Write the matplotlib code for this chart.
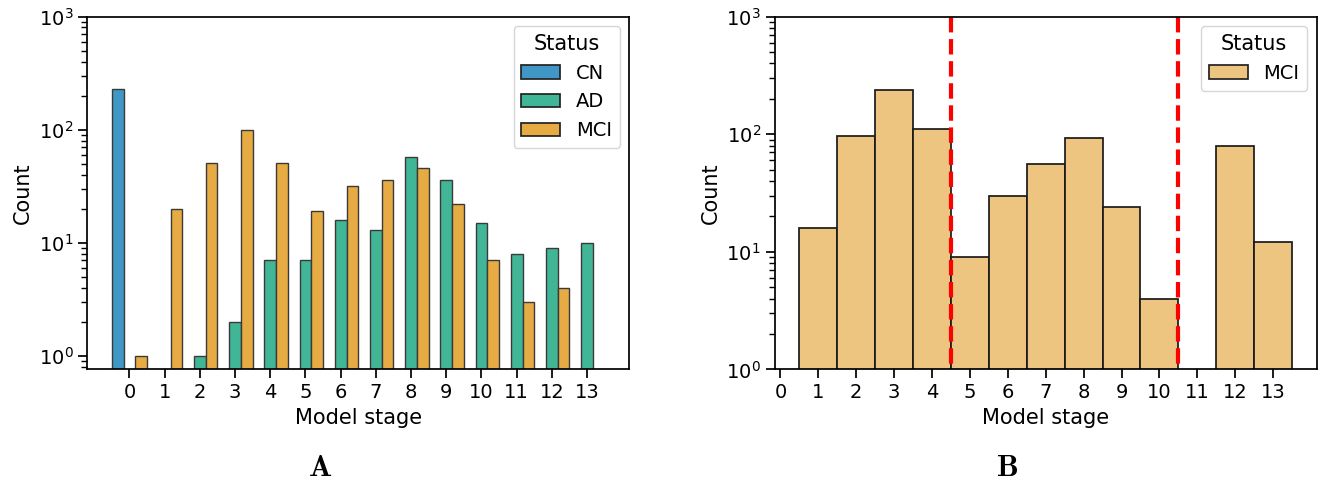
import numpy as np
import matplotlib
matplotlib.use("Agg")
import matplotlib.pyplot as plt
from matplotlib.patches import Patch

plt.rcParams['mathtext.fontset'] = 'cm'
plt.rcParams['axes.linewidth'] = 1.25
plt.rcParams['xtick.major.size'] = 6.5
plt.rcParams['ytick.major.size'] = 6.5
plt.rcParams['ytick.minor.size'] = 4
plt.rcParams['xtick.major.width'] = 1.25
plt.rcParams['ytick.major.width'] = 1.25
plt.rcParams['ytick.minor.width'] = 1.0

# panel A: counts per model stage for each status
stages = np.arange(14)
statuses = ['CN', 'AD', 'MCI']
cn_counts = [228, 0, 0, 0, 0, 0, 0, 0, 0, 0, 0, 0, 0, 0]
ad_counts = [0, 0, 1, 2, 7, 7, 16, 13, 57, 36, 15, 8, 9, 10]
mci_counts = [1, 20, 51, 100, 51, 19, 32, 36, 46, 22, 7, 3, 4, 0]
colors_a = ['#4096c5', '#41b696', '#e6ab43']

# panel B: MCI only
mci_b_counts = [0, 16, 96, 235, 110, 9, 30, 56, 93, 24, 4, 0, 79, 12]
color_b = '#eec580'
cut_points = [4.5, 10.5]

fs_tick = 14
fs_label = 15

fig = plt.figure(figsize=(13.22, 4.86), dpi=100)
axA = fig.add_axes([0.066, 0.240, 0.410, 0.726])
axB = fig.add_axes([0.586, 0.240, 0.410, 0.726])

w = 1 / 3
for i, (name, counts) in enumerate(zip(statuses, [cn_counts, ad_counts, mci_counts])):
    counts = np.array(counts, dtype=float)
    keep = counts > 0
    axA.bar(stages[keep] + (i - 1) * w, counts[keep], width=w,
            color=colors_a[i], edgecolor='#3a3a3a', linewidth=1.0)
axA.set_yscale('log')
axA.set_ylim(0.76, 1000)
axA.set_xlim(-1.2, 14.2)
axA.set_xticks(stages)
axA.set_xlabel('Model stage', fontsize=fs_label)
axA.set_ylabel('Count', fontsize=fs_label)
axA.tick_params(labelsize=fs_tick)
handles = [Patch(facecolor=c, edgecolor='#222222', linewidth=1.25) for c in colors_a]
axA.legend(handles, statuses, title='Status', loc='upper right',
           fontsize=fs_tick, title_fontsize=fs_label)

vals = np.array(mci_b_counts, dtype=float)
keep = vals > 0
axB.bar(stages[keep], vals[keep], width=1.0, color=color_b,
        edgecolor='#1a1a1a', linewidth=1.25)
for c in cut_points:
    # drawn top-down so the dash pattern starts at the top spine
    axB.axvline(c, ymin=1, ymax=0, color='red', linestyle='--', linewidth=3)
axB.set_yscale('log')
axB.set_ylim(1, 1000)
axB.set_xlim(-0.15, 14.15)
axB.set_xticks(stages)
axB.set_xlabel('Model stage', fontsize=fs_label)
axB.set_ylabel('Count', fontsize=fs_label)
axB.tick_params(labelsize=fs_tick)
axB.legend([Patch(facecolor=color_b, edgecolor='#222222', linewidth=1.25)], ['MCI'],
           title='Status', loc='upper right', fontsize=fs_tick, title_fontsize=fs_label)

fig.text(320 / 1322, 1 - 467 / 486, r'$\mathbf{A}$', fontsize=22, ha='center', va='center')
fig.text(1007 / 1322, 1 - 467 / 486, r'$\mathbf{B}$', fontsize=22, ha='center', va='center')

fig.savefig('out.png', dpi=100)
